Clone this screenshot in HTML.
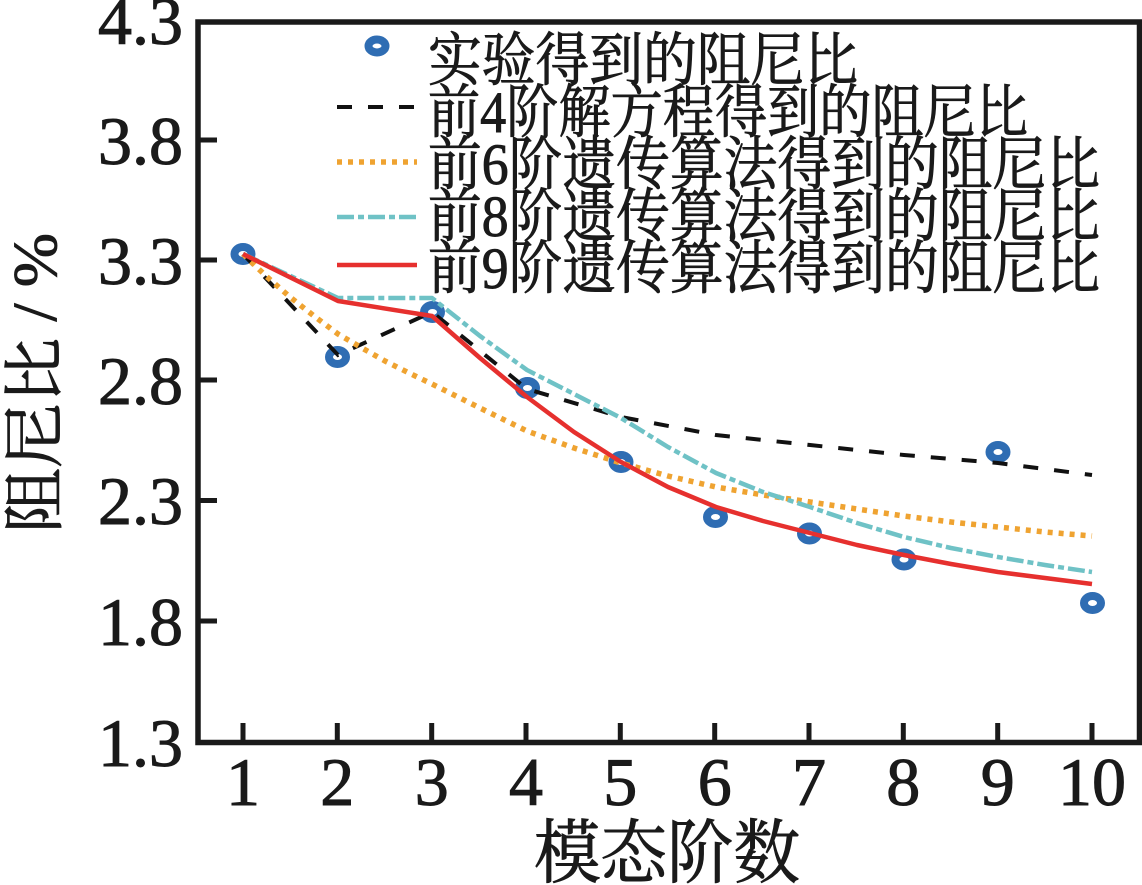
<!DOCTYPE html>
<html>
<head>
<meta charset="utf-8">
<style>
  html,body{margin:0;padding:0;background:#fff;}
  svg{display:block;}
  .num{font-family:"Liberation Serif","Times New Roman",serif;fill:#1a1a1a;stroke:#1a1a1a;stroke-width:1px;}
  .cjk{font-family:"Liberation Serif","Noto Serif CJK SC","Noto Sans CJK SC",serif;fill:#1a1a1a;stroke:#1a1a1a;stroke-width:0.9px;}
</style>
</head>
<body>
<svg width="1142" height="885" viewBox="0 0 1142 885" xmlns="http://www.w3.org/2000/svg">
  <rect x="0" y="0" width="1142" height="885" fill="#fff"/>

  <!-- frame -->
  <rect x="198" y="22" width="941.5" height="720.5" fill="none" stroke="#1a1a1a" stroke-width="5.5"/>

  <!-- y ticks -->
  <g stroke="#1a1a1a" stroke-width="5">
    <line x1="198" y1="140" x2="217" y2="140"/>
    <line x1="198" y1="260" x2="217" y2="260"/>
    <line x1="198" y1="380" x2="217" y2="380"/>
    <line x1="198" y1="500.5" x2="217" y2="500.5"/>
    <line x1="198" y1="621" x2="217" y2="621"/>
  </g>
  <!-- x ticks -->
  <g stroke="#1a1a1a" stroke-width="5">
    <line x1="243" y1="742" x2="243" y2="723"/>
    <line x1="337.3" y1="742" x2="337.3" y2="723"/>
    <line x1="431.7" y1="742" x2="431.7" y2="723"/>
    <line x1="526" y1="742" x2="526" y2="723"/>
    <line x1="620.3" y1="742" x2="620.3" y2="723"/>
    <line x1="714.7" y1="742" x2="714.7" y2="723"/>
    <line x1="809" y1="742" x2="809" y2="723"/>
    <line x1="903.3" y1="742" x2="903.3" y2="723"/>
    <line x1="997.7" y1="742" x2="997.7" y2="723"/>
    <line x1="1092" y1="742" x2="1092" y2="723"/>
  </g>

  <!-- y tick labels -->
  <g class="num" font-family="Liberation Serif, serif" font-size="68" text-anchor="end">
    <text x="183" y="44">4.3</text>
    <text x="183" y="164">3.8</text>
    <text x="183" y="284">3.3</text>
    <text x="183" y="404">2.8</text>
    <text x="183" y="524">2.3</text>
    <text x="183" y="645">1.8</text>
    <text x="183" y="766">1.3</text>
  </g>

  <!-- x tick labels -->
  <g class="num" font-family="Liberation Serif, serif" font-size="68" text-anchor="middle">
    <text x="243" y="805">1</text>
    <text x="337.3" y="805">2</text>
    <text x="431.7" y="805">3</text>
    <text x="526" y="805">4</text>
    <text x="620.3" y="805">5</text>
    <text x="714.7" y="805">6</text>
    <text x="809" y="805">7</text>
    <text x="903.3" y="805">8</text>
    <text x="997.7" y="805">9</text>
    <text x="1092" y="805">10</text>
  </g>

  <!-- axis titles -->
  <text class="cjk" x="667" y="877" font-size="70" text-anchor="middle" textLength="266" lengthAdjust="spacingAndGlyphs">模态阶数</text>
  <text class="cjk" transform="translate(56,383) rotate(-90)" x="0" y="0" font-size="62" text-anchor="middle" textLength="300" lengthAdjust="spacingAndGlyphs">阻尼比 / %</text>

  <!-- experimental markers -->
  <g fill="none" stroke="#2f6db3" stroke-width="8">
    <ellipse cx="243" cy="254" rx="8.5" ry="7"/>
    <ellipse cx="337.5" cy="357" rx="8.5" ry="7"/>
    <ellipse cx="432.5" cy="312" rx="8.5" ry="7"/>
    <ellipse cx="527.5" cy="388" rx="8.5" ry="7"/>
    <ellipse cx="621" cy="462" rx="8.5" ry="7"/>
    <ellipse cx="715.5" cy="517" rx="8.5" ry="7"/>
    <ellipse cx="809.5" cy="533.5" rx="8.5" ry="7"/>
    <ellipse cx="904" cy="559.5" rx="8.5" ry="7"/>
    <ellipse cx="998" cy="452" rx="8.5" ry="7"/>
    <ellipse cx="1092.5" cy="603" rx="8.5" ry="7"/>
  </g>

  <!-- 前4阶 black dashed -->
  <polyline fill="none" stroke="#111" stroke-width="4" stroke-dasharray="15,16"
    points="243,254 338,355 432,312 527,389 621,417 716,435 810,445 904,455 998,463 1092,475"/>

  <!-- 前6阶 orange dotted -->
  <polyline fill="none" stroke="#efa331" stroke-width="5.5" stroke-dasharray="5,6" stroke-linejoin="round"
    points="243,254 266,276 290,297 314,316 338,334 362,348 385,361 409,373 432,384 480,408 527,431 574,448 621,463 668,476 716,487 763,495 810,502 857,509 904,516 951,522 998,527 1045,532 1092,536"/>

  <!-- 前8阶 teal dash-dot -->
  <polyline fill="none" stroke="#6fc2c6" stroke-width="4.5" stroke-dasharray="17,4,6,4" stroke-linejoin="round"
    points="243,254 338,298 432,298 480,336 527,370 574,394 621,418 668,447 716,473 763,492 810,507 857,523 904,537 951,548 998,557 1045,565 1092,572"/>

  <!-- 前9阶 red solid -->
  <polyline fill="none" stroke="#e6302e" stroke-width="4.5" stroke-linejoin="round"
    points="243,254 338,301 432,316 480,358 527,397 574,432 621,462 668,487 716,507 763,521 810,533 857,545 904,555 951,564 998,572 1045,578 1092,584"/>

  <!-- legend -->
  <ellipse cx="377" cy="46" rx="8.5" ry="6.5" fill="none" stroke="#2f6db3" stroke-width="8"/>
  <line x1="337" y1="107" x2="417" y2="107" stroke="#111" stroke-width="4" stroke-dasharray="15,16"/>
  <line x1="337" y1="162" x2="417" y2="162" stroke="#efa331" stroke-width="5.5" stroke-dasharray="5,6"/>
  <line x1="337" y1="217" x2="417" y2="217" stroke="#6fc2c6" stroke-width="4.5" stroke-dasharray="17,4,6,4"/>
  <line x1="337" y1="265" x2="417" y2="265" stroke="#e6302e" stroke-width="4.5"/>

  <g class="cjk" font-size="58">
    <text x="428" y="80" textLength="430" lengthAdjust="spacingAndGlyphs">实验得到的阻尼比</text>
    <text x="428" y="132" textLength="600" lengthAdjust="spacingAndGlyphs">前4阶解方程得到的阻尼比</text>
    <text x="428" y="184" textLength="672" lengthAdjust="spacingAndGlyphs">前6阶遗传算法得到的阻尼比</text>
    <text x="428" y="236" textLength="672" lengthAdjust="spacingAndGlyphs">前8阶遗传算法得到的阻尼比</text>
    <text x="428" y="288" textLength="672" lengthAdjust="spacingAndGlyphs">前9阶遗传算法得到的阻尼比</text>
  </g>
</svg>
</body>
</html>
